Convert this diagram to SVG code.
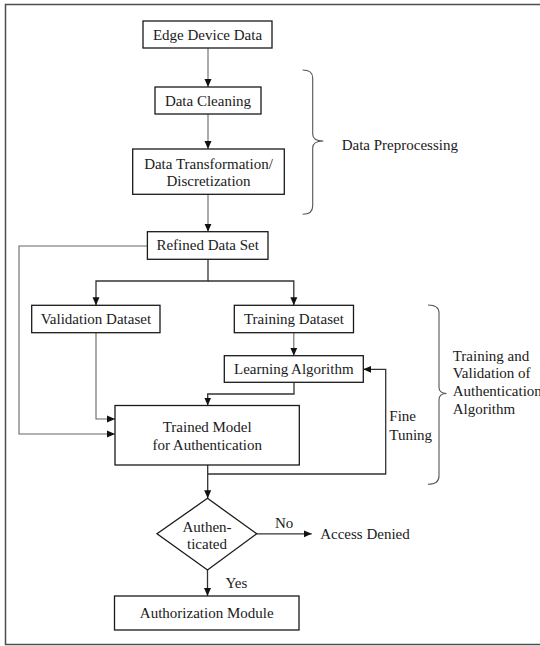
<svg xmlns="http://www.w3.org/2000/svg" width="540" height="646" viewBox="0 0 540 646">
  <style>
    .box { fill: #ffffff; stroke: #1a1a1a; stroke-width: 1.3; }
    .lbl { font-family: "Liberation Serif", "Times New Roman", serif; font-size: 15px; fill: #1a1a1a; }
    .mid { text-anchor: middle; }
    .wire { fill: none; stroke: #333333; stroke-width: 1.3; }
    .thin { fill: none; stroke: #666666; stroke-width: 1.1; }
    .brace { fill: none; stroke: #555555; stroke-width: 1.1; }
  </style>
  <defs>
    <marker id="arrow" viewBox="0 0 8 8" refX="8" refY="4" markerWidth="8" markerHeight="8" markerUnits="userSpaceOnUse" orient="auto">
      <path d="M0,0.5 L8,4 L0,7.5 Z" fill="#111111"/>
    </marker>
  </defs>

  <rect width="540" height="646" fill="#ffffff"/>
  <!-- outer frame -->
  <rect x="5.5" y="4.5" width="560" height="640" fill="none" stroke="#4d4d4d" stroke-width="1.5"/>

  <!-- connectors -->
  <g id="connectors">
    <path class="thin" d="M208,48 V87" marker-end="url(#arrow)"/>
    <path class="thin" d="M208,114 V149" marker-end="url(#arrow)"/>
    <path class="thin" d="M208,194.3 V231.7" marker-end="url(#arrow)"/>
    <path class="thin" d="M147.4,246 H19 V434 H115" marker-end="url(#arrow)"/>
    <path class="wire" d="M208,259.3 V281 H96 V305.3" marker-end="url(#arrow)"/>
    <path class="wire" d="M208,281 H293.8 V305.3" marker-end="url(#arrow)"/>
    <path class="thin" d="M96,332.7 V419 H115" marker-end="url(#arrow)"/>
    <path class="thin" d="M293.8,332.7 V355.7" marker-end="url(#arrow)"/>
    <path class="wire" d="M294,382.3 V394 H207.7 V405.5" marker-end="url(#arrow)"/>
    <path class="wire" d="M207.7,465 V498.3" marker-end="url(#arrow)"/>
    <path class="wire" d="M207.7,474 H385.7 V369.3 H363.3" marker-end="url(#arrow)"/>
    <path class="wire" d="M256.7,533.8 H311.7" marker-end="url(#arrow)"/>
    <path class="wire" d="M207.5,570 V596" marker-end="url(#arrow)"/>
    <text class="lbl" x="275" y="528">No</text>
    <text class="lbl" x="225.5" y="588">Yes</text>
    <text class="lbl" x="389.3" y="421">Fine</text>
    <text class="lbl" x="389.3" y="439.5">Tuning</text>
  </g>

  <g id="edge-device-data">
    <rect class="box" x="143" y="21" width="129" height="27"/>
    <text class="lbl mid" x="207.5" y="39.5">Edge Device Data</text>
  </g>
  <g id="data-cleaning">
    <rect class="box" x="155" y="87" width="106" height="27"/>
    <text class="lbl mid" x="208" y="105.5">Data Cleaning</text>
  </g>
  <g id="data-transformation">
    <rect class="box" x="132.7" y="149" width="151.6" height="45.3"/>
    <text class="lbl mid" x="208.5" y="168.5">Data Transformation/</text>
    <text class="lbl mid" x="208.5" y="186">Discretization</text>
  </g>
  <g id="refined-data-set">
    <rect class="box" x="147.4" y="231.7" width="120.6" height="27.6"/>
    <text class="lbl mid" x="207.7" y="250.3">Refined Data Set</text>
  </g>
  <g id="validation-dataset">
    <rect class="box" x="31.7" y="305.3" width="128.3" height="27.4"/>
    <text class="lbl mid" x="95.9" y="324">Validation Dataset</text>
  </g>
  <g id="training-dataset">
    <rect class="box" x="234.3" y="305.3" width="119.2" height="27.4"/>
    <text class="lbl mid" x="293.9" y="324">Training Dataset</text>
  </g>
  <g id="learning-algorithm">
    <rect class="box" x="224.3" y="355.7" width="139" height="26.6"/>
    <text class="lbl mid" x="293.8" y="374">Learning Algorithm</text>
  </g>
  <g id="trained-model">
    <rect class="box" x="115" y="405.5" width="184.3" height="59.5"/>
    <text class="lbl mid" x="207.2" y="432">Trained Model</text>
    <text class="lbl mid" x="207.2" y="449.5">for Authentication</text>
  </g>
  <g id="authenticated">
    <polygon class="box" points="207.5,498.3 256.7,533.8 207.5,570 157,533.8"/>
    <text class="lbl mid" x="207" y="531.5">Authen-</text>
    <text class="lbl mid" x="207" y="548.5">ticated</text>
  </g>
  <g id="access-denied">
    <text class="lbl" x="320.2" y="539">Access Denied</text>
  </g>
  <g id="authorization-module">
    <rect class="box" x="114.5" y="596" width="184.5" height="34"/>
    <text class="lbl mid" x="206.7" y="618">Authorization Module</text>
  </g>

  <g id="data-preprocessing">
    <path class="brace" d="M302.7,70 Q312.7,70 312.7,78 V134 Q312.7,141 323.3,141 Q312.7,141 312.7,148 V206 Q312.7,214.3 302.7,214.3"/>
    <text class="lbl" x="341.7" y="150">Data Preprocessing</text>
  </g>
  <g id="training-validation">
    <path class="brace" d="M428,305 Q439,305 439,313 V387 Q439,393.5 446.5,393.5 Q439,393.5 439,400 V476 Q439,484.3 428,484.3"/>
    <text class="lbl" x="452.7" y="360.7">Training and</text>
    <text class="lbl" x="452.7" y="378.4">Validation of</text>
    <text class="lbl" x="452.7" y="396">Authentication</text>
    <text class="lbl" x="452.7" y="413.5">Algorithm</text>
  </g>
</svg>
